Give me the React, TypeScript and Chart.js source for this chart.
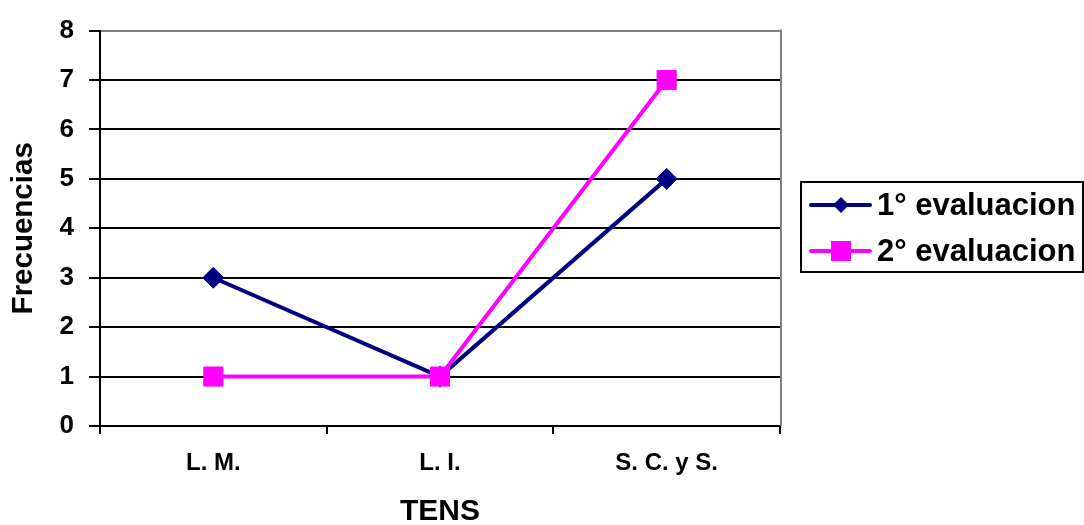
import React, { useEffect, useRef } from "react";
import { Chart, registerables } from "chart.js";

Chart.register(...registerables);

// Categories on the x axis and the two evaluation series
const categories = ["L. M.", "L. I.", "S. C. y S."];
const evaluacion1 = [3, 1, 5];
const evaluacion2 = [1, 1, 7];
const seriesNames = ["1° evaluacion", "2° evaluacion"];
const yTicks = [0, 1, 2, 3, 4, 5, 6, 7, 8];

const FONT = "'Liberation Sans', Arial, sans-serif";
const NAVY = "#000080";
const MAGENTA = "#FF00FF";

// Right frame edge of the plot plus the boxed legend on the right
const framePlugin = {
  id: "frameAndLegend",
  afterDraw(chart: any) {
    const { ctx, chartArea } = chart;
    ctx.save();
    ctx.strokeStyle = "#808080";
    ctx.lineWidth = 2;
    ctx.beginPath();
    ctx.moveTo(chartArea.right + 1, chartArea.top - 1);
    ctx.lineTo(chartArea.right + 1, chartArea.bottom);
    ctx.stroke();

    // legend box
    const bx = 801, by = 182, bw = 282, bh = 90;
    ctx.strokeStyle = "#000";
    ctx.lineWidth = 2;
    ctx.strokeRect(bx, by, bw, bh);

    const rows = [
      { y: 205, color: NAVY, shape: "diamond", label: seriesNames[0] },
      { y: 251, color: MAGENTA, shape: "square", label: seriesNames[1] },
    ];
    rows.forEach((r) => {
      ctx.strokeStyle = r.color;
      ctx.lineWidth = 4;
      ctx.lineCap = "round";
      ctx.beginPath();
      ctx.moveTo(811, r.y);
      ctx.lineTo(870, r.y);
      ctx.stroke();
      ctx.fillStyle = r.color;
      ctx.beginPath();
      if (r.shape === "diamond") {
        ctx.moveTo(841 - 8, r.y);
        ctx.lineTo(841, r.y - 8);
        ctx.lineTo(841 + 8, r.y);
        ctx.lineTo(841, r.y + 8);
        ctx.closePath();
      } else {
        ctx.rect(841 - 10, r.y - 10, 20, 20);
      }
      ctx.fill();
      ctx.fillStyle = "#000";
      ctx.font = `bold 31px ${FONT}`;
      ctx.textAlign = "left";
      ctx.textBaseline = "middle";
      ctx.fillText(r.label, 877, r.y + 1);
    });
    ctx.restore();
  },
};

export default function App() {
  const canvasRef = useRef<HTMLCanvasElement | null>(null);

  useEffect(() => {
    if (!canvasRef.current) return;
    const chart = new Chart(canvasRef.current, {
      type: "line",
      data: {
        labels: categories,
        datasets: [
          {
            label: seriesNames[0],
            data: evaluacion1,
            borderColor: NAVY,
            backgroundColor: NAVY,
            borderWidth: 4,
            pointStyle: "rectRot",
            pointRadius: 10.5,
            pointBorderWidth: 1,
            order: 1,
          },
          {
            label: seriesNames[1],
            data: evaluacion2,
            borderColor: MAGENTA,
            backgroundColor: MAGENTA,
            borderWidth: 4,
            pointStyle: "rect",
            pointRadius: 13.5,
            pointBorderWidth: 1,
            order: 0,
          },
        ],
      },
      options: {
        responsive: false,
        animation: false,
        events: [],
        layout: { padding: { left: 0, top: 30, right: 304, bottom: 0 } },
        plugins: {
          legend: { display: false },
          tooltip: { enabled: false },
        },
        scales: {
          x: {
            type: "category",
            offset: true,
            afterFit: (scale: any) => {
              scale.height = 99;
            },
            grid: {
              offset: true,
              drawOnChartArea: false,
              drawTicks: true,
              tickLength: 8,
              color: "#000",
              lineWidth: 2,
            },
            border: { color: "#000", width: 2 },
            ticks: {
              color: "#000",
              padding: 15,
              font: { family: FONT, size: 24, weight: "bold" },
              maxRotation: 0,
            },
            title: {
              display: true,
              text: "TENS",
              color: "#000",
              font: { family: FONT, size: 30, weight: "bold", lineHeight: 1 },
              padding: { top: 0, bottom: -2 },
            },
          },
          y: {
            min: 0,
            max: 8,
            afterFit: (scale: any) => {
              scale.width = 100;
            },
            afterBuildTicks: (scale: any) => {
              scale.ticks = yTicks.map((v) => ({ value: v }));
            },
            grid: {
              color: (c: any) => (c.tick && c.tick.value === 8 ? "#808080" : "#000"),
              tickColor: "#000",
              lineWidth: 2,
              drawTicks: true,
              tickLength: 11,
            },
            border: { color: "#000", width: 2 },
            ticks: {
              color: "#000",
              padding: 15,
              font: { family: FONT, size: 26, weight: "bold" },
            },
            title: {
              display: true,
              text: "Frecuencias",
              color: "#000",
              font: { family: FONT, size: 29.5, weight: "bold", lineHeight: 1 },
              padding: { top: 9, bottom: 0 },
            },
          },
        },
      },
      plugins: [framePlugin],
    });
    return () => chart.destroy();
  }, []);

  return (
    <div style={{ position: "absolute", left: 0, top: 0, width: 1084, height: 525, background: "#fff" }}>
      <canvas ref={canvasRef} width={1084} height={525} style={{ display: "block" }} />
    </div>
  );
}
